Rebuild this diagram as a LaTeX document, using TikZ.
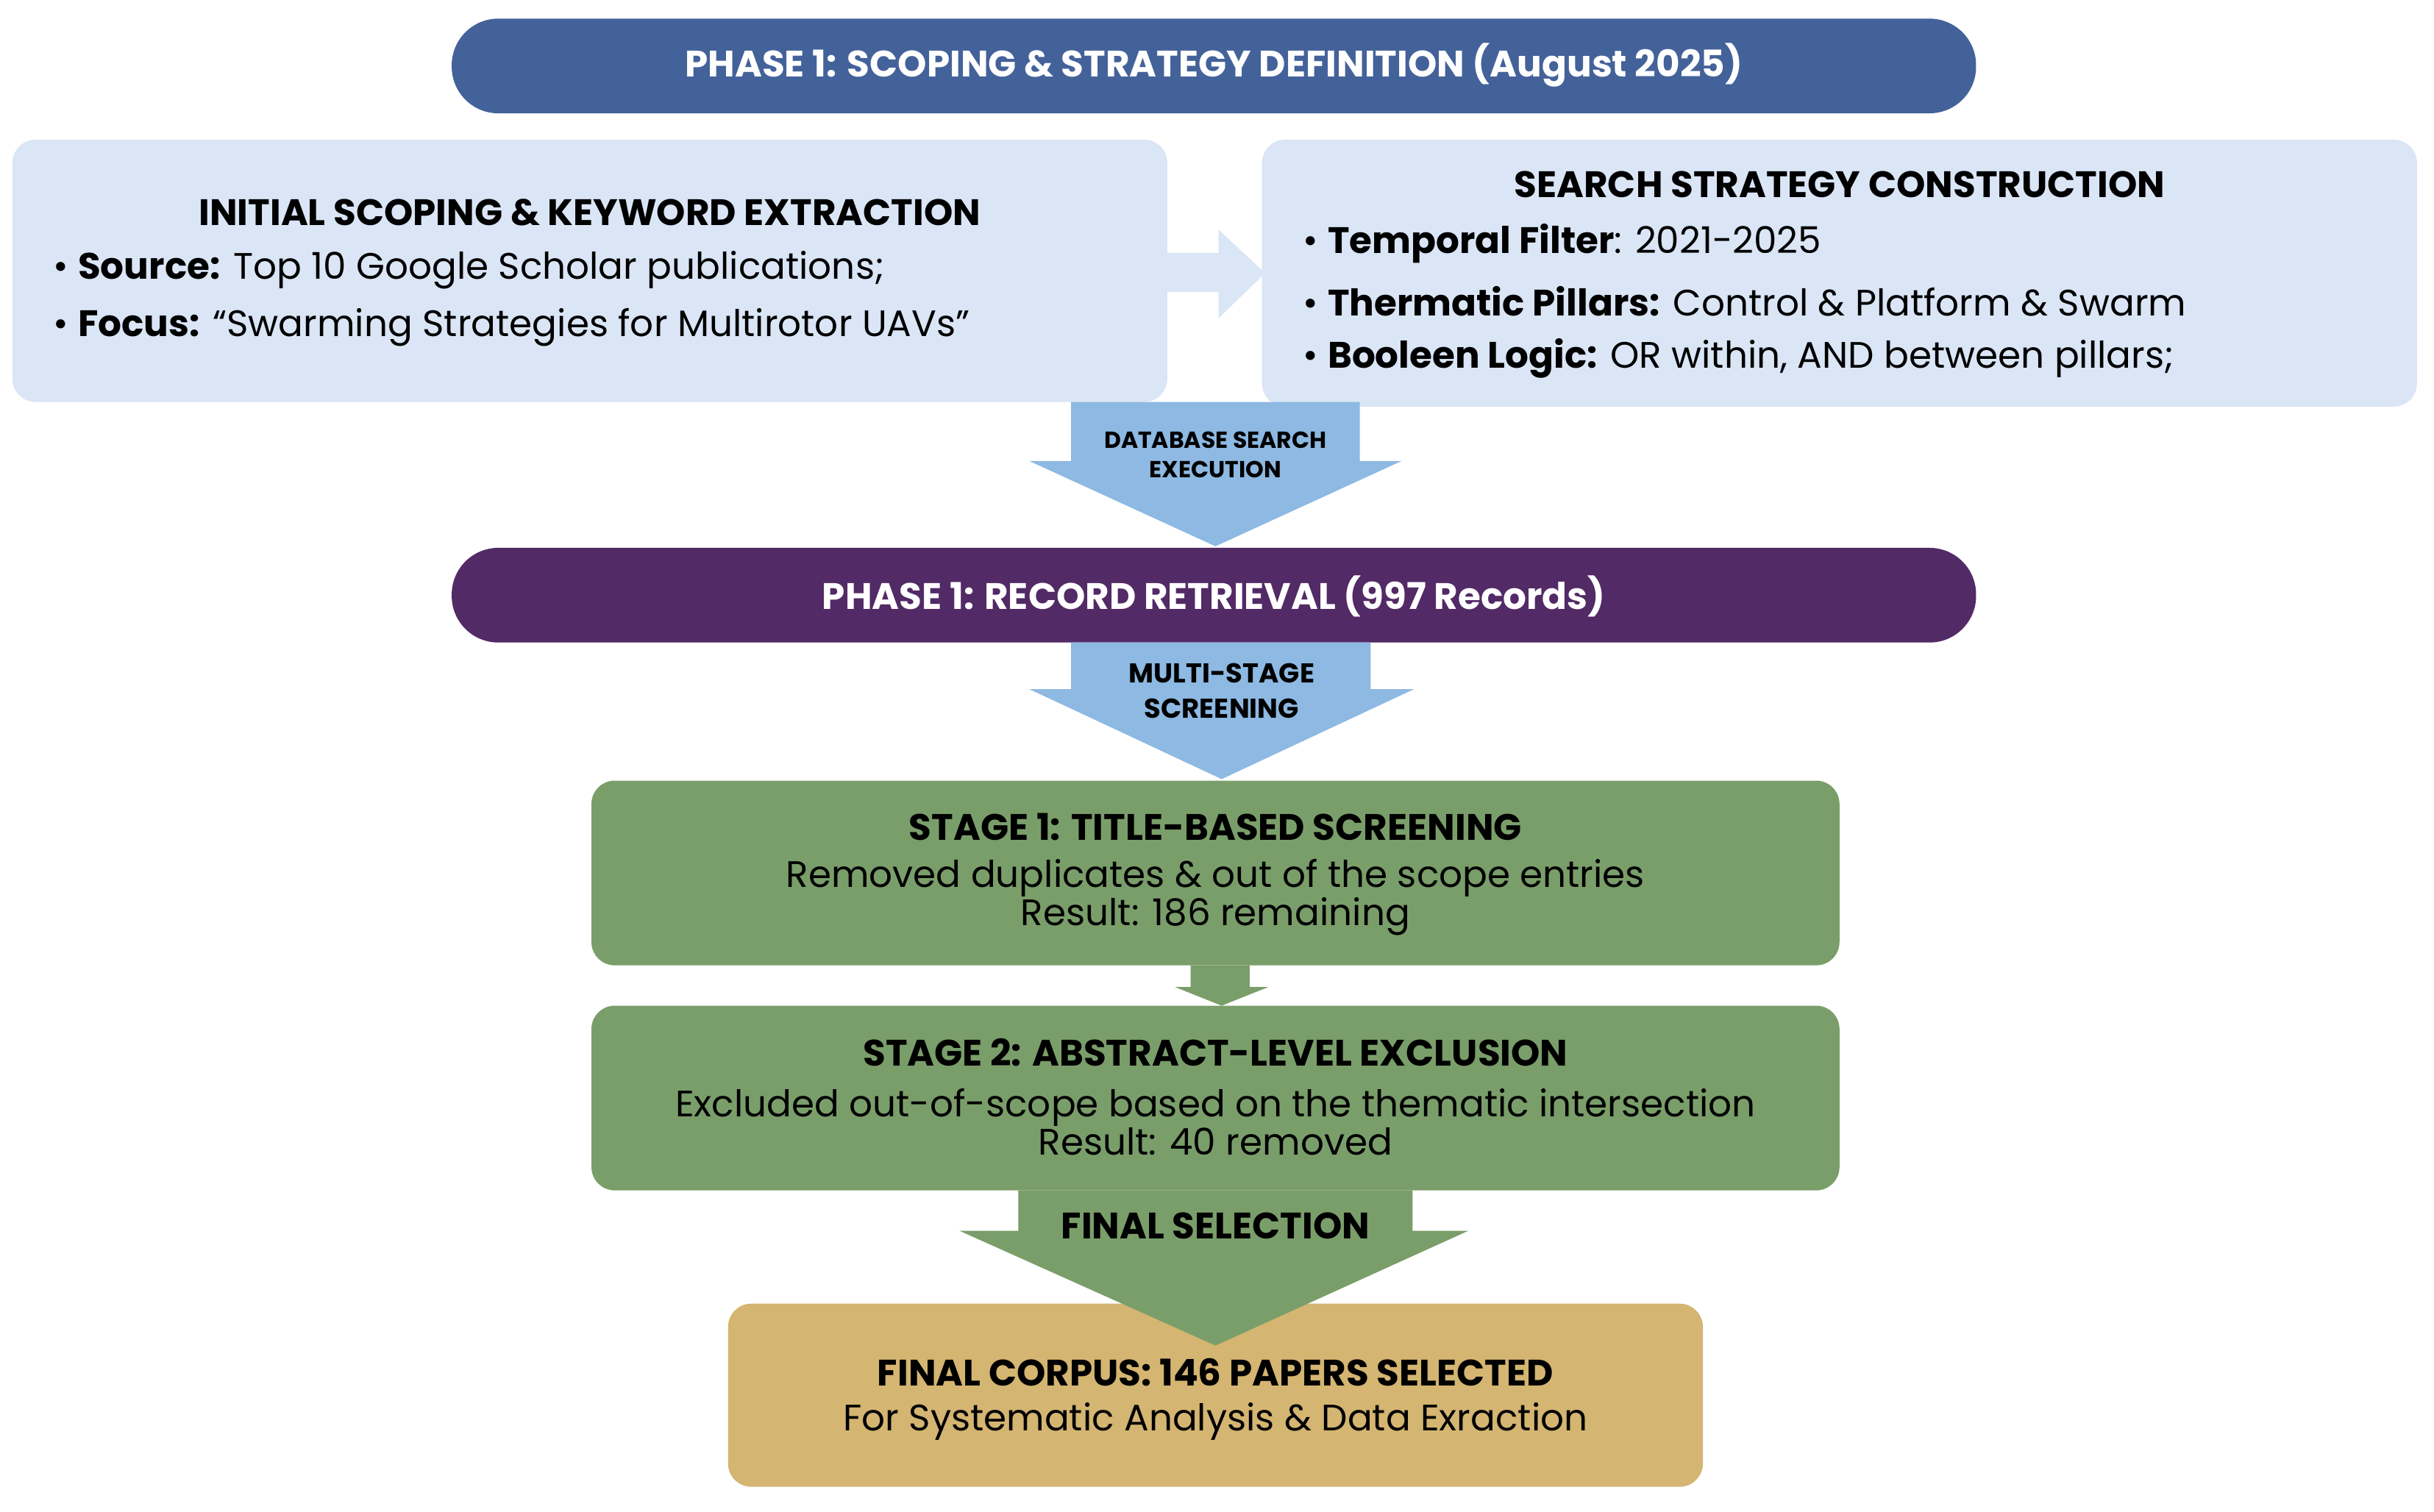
\documentclass[tikz,border=0pt]{standalone}
\usepackage{fontspec}
\setmainfont{Poppins}
\begin{document}
\begin{tikzpicture}[x=0.02cm,y=-0.02cm,
 banner/.style={rounded corners=0.6cm,draw=none},
 box/.style={rounded corners=0.3cm,draw=none},
 ttl/.style={font=\bfseries\fontsize{13.5}{16}\selectfont},
 txt/.style={font=\fontsize{13.5}{16}\selectfont},
 lbl/.style={font=\bfseries\fontsize{8.5}{11}\selectfont,align=center}]
\definecolor{pblue}{HTML}{44629A}
\definecolor{lblue}{HTML}{DAE5F5}
\definecolor{ablue}{HTML}{8DB9E2}
\definecolor{purp}{HTML}{522A66}
\definecolor{grn}{HTML}{7A9E6A}
\definecolor{gold}{HTML}{D4B571}
\useasboundingbox[fill=white] (0,0) rectangle (1568,974);
% boxes
\fill[pblue,banner] (291,12) rectangle (1273,73);
\node[ttl,text=white] (p1) at (782,42) {PHASE 1: SCOPING \& STRATEGY DEFINITION (August 2025)};
\fill[lblue,box] (8,90) rectangle (752,259);
\fill[lblue,box] (813,90) rectangle (1557,262);
\fill[lblue] (752,163) -- (785,163) -- (785,148) -- (815,176) -- (785,205) -- (785,188) -- (752,188) -- cycle;
\node[ttl] (lt) at (380,137) {INITIAL SCOPING \& KEYWORD EXTRACTION};
\node[txt,anchor=west] (l1) at (28,174) {\textbullet\ \textbf{Source:} Top 10 Google Scholar publications;};
\node[txt,anchor=west] (l2) at (28,211) {\textbullet\ \textbf{Focus:} “Swarming Strategies for Multirotor UAVs”};
\node[ttl] (rt) at (1185,119) {SEARCH STRATEGY CONSTRUCTION};
\node[txt,anchor=west] (r1) at (833,157) {\textbullet\ \textbf{Temporal Filter}: 2021-2025};
\node[txt,anchor=west] (r2) at (833,194) {\textbullet\ \textbf{Thermatic Pillars:} Control \& Platform \& Swarm};
\node[txt,anchor=west] (r3) at (833,231) {\textbullet\ \textbf{Booleen Logic:} OR within, AND between pillars;};
% arrow 1
\fill[ablue] (690,259) -- (876,259) -- (876,297) -- (903,297) -- (783,352) -- (663,297) -- (690,297) -- cycle;
\node[lbl] (a1) at (783,293) {DATABASE SEARCH\\EXECUTION};
\fill[purp,banner] (291,353) rectangle (1273,414);
\node[ttl,text=white] (p2) at (782,384) {PHASE 1: RECORD RETRIEVAL (997 Records)};
% arrow 2
\fill[ablue] (690,414) -- (883,414) -- (883,444) -- (911,444) -- (787,502) -- (663,444) -- (690,444) -- cycle;
\node[lbl,font=\bfseries\fontsize{10}{13}\selectfont] (a2) at (787,445) {MULTI-STAGE\\SCREENING};
% stage 1
\fill[grn,box] (381,503) rectangle (1185,622);
\node[ttl] (s1) at (783,533) {STAGE 1: TITLE-BASED SCREENING};
\node[txt,align=center] (s1b) at (783,578) {Removed duplicates \& out of the scope entries\\[-2pt]Result: 186 remaining};
\fill[grn] (767,622) -- (805,622) -- (805,636) -- (817,636) -- (787,648) -- (757,636) -- (767,636) -- cycle;
\fill[grn,box] (381,648) rectangle (1185,767);
\node[ttl] (s2) at (783,678) {STAGE 2: ABSTRACT-LEVEL EXCLUSION};
\node[txt,align=center] (s2b) at (783,723) {Excluded out-of-scope based on the thematic intersection\\[-2pt]Result: 40 removed};
% final
\fill[gold,box] (469,840) rectangle (1097,958);
\fill[grn] (656,767) -- (910,767) -- (910,793) -- (946,793) -- (783,867) -- (618,793) -- (656,793) -- cycle;
\node[ttl] (fs) at (783,790) {FINAL SELECTION};
\node[ttl] (fc) at (783,884) {FINAL CORPUS: 146 PAPERS SELECTED};
\node[txt] (fc2) at (783,916) {For Systematic Analysis \& Data Exraction};
\end{tikzpicture}
\end{document}
